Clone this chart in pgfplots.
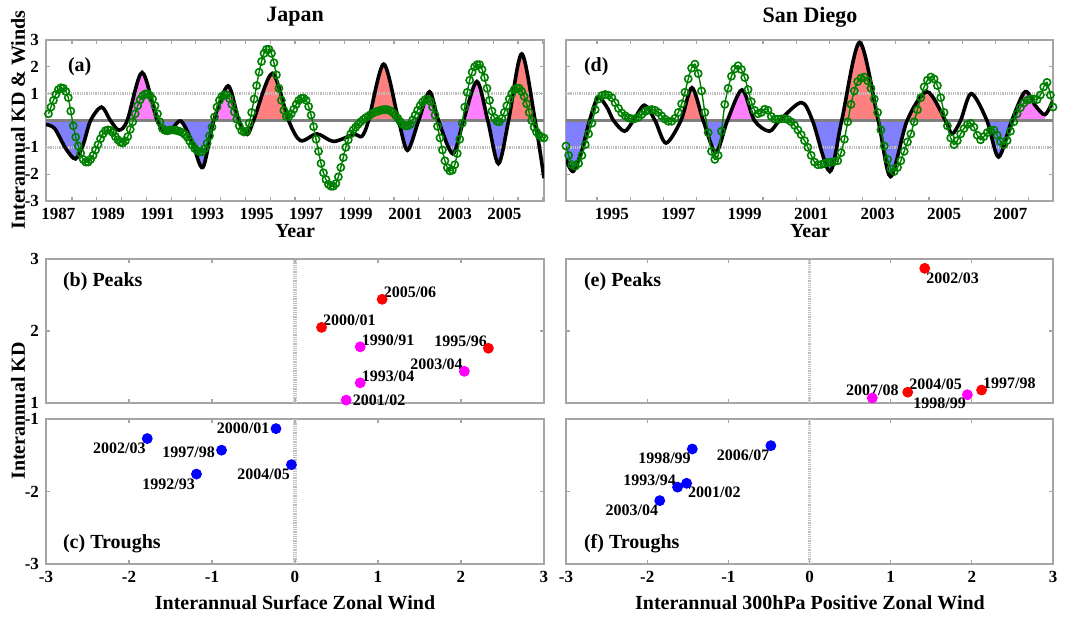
\documentclass[border=0pt]{standalone}
\usepackage{fontspec}
\setmainfont{Liberation Serif}
\usepackage{pgfplots}
\usepackage{pgfplotstable}
\pgfplotsset{compat=1.18}

\definecolor{kdred}{RGB}{255,128,128}
\definecolor{kdpink}{RGB}{255,128,255}
\definecolor{kdblue}{RGB}{128,128,255}
\definecolor{wgreen}{RGB}{0,128,0}
\definecolor{framegray}{RGB}{165,165,165}
\definecolor{ptred}{RGB}{255,0,0}
\definecolor{ptmag}{RGB}{255,0,255}
\definecolor{ptblue}{RGB}{0,0,255}

\pgfplotsset{
  panel/.style={scale only axis, anchor=south west,
    axis line style={draw=framegray, line width=0.7pt},
    tick style={draw=framegray, line width=0.6pt},
    major tick length=2.2pt, tick align=inside,
    tick label style={font=\fontsize{8.5}{10}\selectfont\bfseries}},
  zline/.style={draw=gray, line width=1.5pt},
  dline/.style={draw=gray!50, line width=1.6pt, dash pattern=on 0.45pt off 0.45pt},
  kdline/.style={black, line width=1.8pt, smooth},
  wind/.style={wgreen, line width=0.7pt, smooth, mark=o, mark size=1.8pt,
    mark options={line width=0.8pt, solid}},
  dot/.style={only marks, mark=*, mark size=2.5pt},
  % fill under the KD curve between two zero crossings
  kdfill/.style 2 args={draw=none, smooth, restrict x to domain=#1:#2},
}
\newcommand{\ptlab}{\fontsize{8}{9.6}\selectfont\bfseries}
\newcommand{\axlab}{\fontsize{10}{12}\selectfont\bfseries}

% Japan: KD (black)
\pgfplotstableread{
x y
1986.5 -0.15
1986.85 -0.3
1987.3 -1.05
1987.69 -1.43
1988.0 -0.9
1988.3 0
1988.74 0.5
1989.1 0
1989.44 -0.36
1989.78 0
1990.38 1.79
1990.99 0
1991.42 -0.46
1991.93 -0.02
1992.4 -0.8
1992.83 -1.75
1993.27 0
1993.85 1.29
1994.28 0
1994.62 -0.52
1994.88 0
1995.63 1.75
1996.29 0
1996.77 -0.75
1997.44 -0.5
1998.11 -0.78
1998.92 -0.52
1999.25 -0.59
1999.52 0
2000.13 2.1
2000.73 0
2001.09 -1.11
2001.54 0
2001.98 1.07
2002.34 0
2002.92 -1.24
2003.35 0
2003.89 1.45
2004.33 0
2004.76 -1.61
2005.17 0
2005.7 2.48
2006.24 0
2006.6 -2.15
}\kdA

% Japan: surface zonal wind (green)
\pgfplotstableread{
x y
1986.6 0.25
1986.7 0.5
1986.8 0.75
1986.9 0.97
1987.0 1.15
1987.1 1.22
1987.2 1.2
1987.3 1.08
1987.4 0.85
1987.5 0.35
1987.6 -0.2
1987.7 -0.62
1987.8 -0.95
1987.9 -1.22
1988.0 -1.45
1988.1 -1.55
1988.2 -1.55
1988.3 -1.45
1988.4 -1.3
1988.5 -1.1
1988.6 -0.9
1988.7 -0.68
1988.8 -0.5
1988.9 -0.38
1989.0 -0.35
1989.1 -0.37
1989.2 -0.45
1989.3 -0.6
1989.4 -0.72
1989.5 -0.81
1989.6 -0.84
1989.7 -0.76
1989.8 -0.6
1989.9 -0.33
1990.0 -0.05
1990.1 0.25
1990.2 0.55
1990.3 0.77
1990.4 0.92
1990.5 0.99
1990.6 1.0
1990.7 0.93
1990.8 0.8
1990.9 0.55
1991.0 0.25
1991.1 -0.05
1991.2 -0.3
1991.3 -0.37
1991.4 -0.38
1991.5 -0.36
1991.6 -0.35
1991.7 -0.36
1991.8 -0.38
1991.9 -0.41
1992.0 -0.45
1992.1 -0.52
1992.2 -0.62
1992.3 -0.77
1992.4 -0.92
1992.5 -1.04
1992.6 -1.12
1992.7 -1.17
1992.8 -1.17
1992.9 -1.05
1993.0 -0.85
1993.1 -0.57
1993.2 -0.25
1993.3 0.13
1993.4 0.5
1993.5 0.75
1993.6 0.9
1993.7 0.96
1993.8 0.95
1993.9 0.82
1994.0 0.6
1994.1 0.32
1994.2 0.05
1994.3 -0.2
1994.4 -0.38
1994.5 -0.43
1994.6 -0.4
1994.7 -0.1
1994.8 0.3
1994.9 0.8
1995.0 1.3
1995.1 1.8
1995.2 2.2
1995.3 2.5
1995.4 2.65
1995.5 2.65
1995.6 2.5
1995.7 2.15
1995.8 1.7
1995.9 1.2
1996.0 0.75
1996.1 0.38
1996.2 0.15
1996.3 0.15
1996.4 0.25
1996.5 0.42
1996.6 0.6
1996.7 0.75
1996.8 0.82
1996.9 0.83
1997.0 0.75
1997.1 0.52
1997.2 0.2
1997.3 -0.23
1997.4 -0.7
1997.5 -1.15
1997.6 -1.6
1997.7 -1.95
1997.8 -2.2
1997.9 -2.38
1998.0 -2.45
1998.1 -2.45
1998.2 -2.35
1998.3 -2.1
1998.4 -1.75
1998.5 -1.38
1998.6 -1.0
1998.7 -0.72
1998.8 -0.5
1998.9 -0.35
1999.0 -0.25
1999.1 -0.14
1999.2 -0.05
1999.3 0.03
1999.4 0.1
1999.5 0.16
1999.6 0.22
1999.7 0.28
1999.8 0.32
1999.9 0.35
2000.0 0.38
2000.1 0.4
2000.2 0.41
2000.3 0.4
2000.4 0.36
2000.5 0.29
2000.6 0.2
2000.7 0.08
2000.8 -0.05
2000.9 -0.15
2001.0 -0.2
2001.1 -0.2
2001.2 -0.15
2001.3 0.02
2001.4 0.2
2001.5 0.38
2001.6 0.55
2001.7 0.69
2001.8 0.78
2001.9 0.79
2002.0 0.72
2002.1 0.5
2002.2 0.2
2002.3 -0.22
2002.4 -0.65
2002.5 -1.1
2002.6 -1.5
2002.7 -1.76
2002.8 -1.88
2002.9 -1.85
2003.0 -1.65
2003.1 -1.23
2003.2 -0.7
2003.3 -0.1
2003.4 0.5
2003.5 1.05
2003.6 1.5
2003.7 1.8
2003.8 2.0
2003.9 2.08
2004.0 2.08
2004.1 1.9
2004.2 1.6
2004.3 1.2
2004.4 0.75
2004.5 0.35
2004.6 0.1
2004.7 -0.03
2004.8 -0.05
2004.9 0.08
2005.0 0.3
2005.1 0.55
2005.2 0.8
2005.3 1.0
2005.4 1.15
2005.5 1.2
2005.6 1.2
2005.7 1.08
2005.8 0.9
2005.9 0.62
2006.0 0.3
2006.1 0.0
2006.2 -0.25
2006.3 -0.43
2006.4 -0.55
2006.5 -0.62
2006.6 -0.65
}\windA

% San Diego: KD (black)
\pgfplotstableread{
x y
1993.62 -1.45
1993.83 -1.9
1994.08 -1.2
1994.33 0
1994.58 0.85
1994.85 0.5
1995.05 0
1995.38 -0.4
1995.65 0
1995.98 0.57
1996.3 0
1996.63 -0.84
1997.08 0
1997.41 1.22
1997.75 0
1998.13 -1.19
1998.48 0
1998.92 1.14
1999.29 0
1999.74 -0.4
2000.05 0
2000.7 0.67
2001.04 0
2001.56 -1.9
2001.92 0
2002.46 2.91
2003.02 0
2003.39 -2.09
2003.89 0
2004.49 1.07
2005.04 0
2005.24 -0.5
2005.5 0
2005.82 1.0
2006.29 0
2006.64 -1.36
2007.04 0
2007.44 1.07
2007.75 0.55
2008.04 0.22
2008.28 0.75
}\kdD

% San Diego: 300hPa positive zonal wind (green)
\pgfplotstableread{
x y
1993.62 -0.95
1993.7 -1.3
1993.8 -1.65
1993.9 -1.7
1994.0 -1.6
1994.1 -1.3
1994.2 -0.9
1994.3 -0.5
1994.4 -0.1
1994.5 0.4
1994.6 0.8
1994.7 0.93
1994.8 0.97
1994.9 0.94
1995.0 0.85
1995.1 0.66
1995.2 0.45
1995.3 0.28
1995.4 0.18
1995.5 0.1
1995.6 0.06
1995.7 0.07
1995.8 0.12
1995.9 0.22
1996.0 0.33
1996.1 0.39
1996.2 0.41
1996.3 0.38
1996.4 0.3
1996.5 0.17
1996.6 0.05
1996.7 -0.03
1996.8 -0.03
1996.9 0.08
1997.0 0.3
1997.1 0.62
1997.2 1.05
1997.3 1.55
1997.4 1.95
1997.5 2.1
1997.6 1.75
1997.7 1.1
1997.8 0.3
1997.9 -0.45
1998.0 -1.15
1998.1 -1.45
1998.2 -1.3
1998.3 -0.4
1998.4 0.6
1998.5 1.2
1998.6 1.65
1998.7 1.92
1998.8 2.04
1998.9 1.9
1999.0 1.6
1999.1 1.15
1999.2 0.7
1999.3 0.38
1999.4 0.25
1999.5 0.3
1999.6 0.42
1999.7 0.38
1999.8 0.15
1999.9 0.05
2000.0 0.05
2000.1 0.06
2000.2 0.07
2000.3 0.03
2000.4 -0.05
2000.5 -0.18
2000.6 -0.35
2000.7 -0.53
2000.8 -0.75
2000.9 -1.0
2001.0 -1.3
2001.1 -1.55
2001.2 -1.65
2001.3 -1.64
2001.4 -1.6
2001.5 -1.57
2001.6 -1.55
2001.7 -1.53
2001.8 -1.5
2001.9 -1.2
2002.0 -0.7
2002.1 -0.05
2002.2 0.6
2002.3 1.1
2002.4 1.45
2002.5 1.58
2002.6 1.62
2002.7 1.48
2002.8 1.2
2002.9 0.8
2003.0 0.3
2003.1 -0.35
2003.2 -0.95
2003.3 -1.45
2003.4 -1.8
2003.5 -1.9
2003.6 -1.75
2003.7 -1.5
2003.8 -1.15
2003.9 -0.8
2004.0 -0.5
2004.1 -0.05
2004.2 0.4
2004.3 0.85
2004.4 1.25
2004.5 1.5
2004.6 1.62
2004.7 1.55
2004.8 1.3
2004.9 0.85
2005.0 0.3
2005.1 -0.2
2005.2 -0.65
2005.3 -0.9
2005.4 -0.75
2005.5 -0.5
2005.6 -0.3
2005.7 -0.15
2005.8 -0.1
2005.9 -0.25
2006.0 -0.55
2006.1 -0.72
2006.2 -0.6
2006.3 -0.45
2006.4 -0.37
2006.5 -0.36
2006.6 -0.55
2006.7 -0.78
2006.8 -0.9
2006.9 -0.75
2007.0 -0.4
2007.1 -0.05
2007.2 0.25
2007.3 0.48
2007.4 0.65
2007.5 0.75
2007.6 0.8
2007.7 0.8
2007.8 0.78
2007.9 0.95
2008.0 1.25
2008.1 1.42
2008.2 0.95
2008.28 0.5
}\windD

\begin{document}
\begin{tikzpicture}
\path (0,0) rectangle (532.5pt,309.5pt);

% ---------- (a) Japan time series
\begin{axis}[panel, at={(23pt,209pt)}, width=249pt, height=80.5pt,
  xmin=1986.5, xmax=2006.6, ymin=-3, ymax=3,
  xtick={1987.55,1988.55,...,2006.55}, xticklabels={},
  extra x ticks={1987,1989,...,2005},
  extra x tick labels={1987,1989,1991,1993,1995,1997,1999,2001,2003,2005},
  extra x tick style={major tick length=0pt},
  ytick={-3,...,3}, yticklabels={-3,-2,-1,,1,2,3}]
\addplot[kdfill={1986.49}{1988.31}, fill=kdblue] table {\kdA} \closedcycle;
\addplot[kdfill={1990.98}{1993.28}, fill=kdblue] table {\kdA} \closedcycle;
\addplot[kdfill={2000.72}{2001.55}, fill=kdblue] table {\kdA} \closedcycle;
\addplot[kdfill={2002.33}{2003.36}, fill=kdblue] table {\kdA} \closedcycle;
\addplot[kdfill={2004.32}{2005.18}, fill=kdblue] table {\kdA} \closedcycle;
\addplot[kdfill={1989.77}{1991.00}, fill=kdpink] table {\kdA} \closedcycle;
\addplot[kdfill={1993.26}{1994.29}, fill=kdpink] table {\kdA} \closedcycle;
\addplot[kdfill={2001.53}{2002.35}, fill=kdpink] table {\kdA} \closedcycle;
\addplot[kdfill={2003.34}{2004.34}, fill=kdpink] table {\kdA} \closedcycle;
\addplot[kdfill={1994.87}{1996.30}, fill=kdred] table {\kdA} \closedcycle;
\addplot[kdfill={1999.51}{2000.74}, fill=kdred] table {\kdA} \closedcycle;
\addplot[kdfill={2005.16}{2006.25}, fill=kdred] table {\kdA} \closedcycle;
\addplot[dline] coordinates {(1986.5,1) (2006.6,1)};
\addplot[dline] coordinates {(1986.5,-1) (2006.6,-1)};
\addplot[zline] coordinates {(1986.5,0) (2006.6,0)};
\addplot[kdline] table {\kdA};
\addplot[wind] table {\windA};
\end{axis}

% ---------- (d) San Diego time series
\begin{axis}[panel, at={(283pt,209pt)}, width=243.5pt, height=80.5pt,
  xmin=1993.62, xmax=2008.28, ymin=-3, ymax=3,
  xtick={1994.55,1995.55,...,2007.55}, xticklabels={},
  extra x ticks={1995,1997,...,2007},
  extra x tick labels={1995,1997,1999,2001,2003,2005,2007},
  extra x tick style={major tick length=0pt},
  ytick={-3,...,3}, yticklabels={}]
\addplot[kdfill={1993.61}{1994.34}, fill=kdblue] table {\kdD} \closedcycle;
\addplot[kdfill={1997.74}{1998.49}, fill=kdblue] table {\kdD} \closedcycle;
\addplot[kdfill={2001.03}{2001.93}, fill=kdblue] table {\kdD} \closedcycle;
\addplot[kdfill={2003.01}{2003.90}, fill=kdblue] table {\kdD} \closedcycle;
\addplot[kdfill={2006.28}{2007.05}, fill=kdblue] table {\kdD} \closedcycle;
\addplot[kdfill={1997.07}{1997.76}, fill=kdred] table {\kdD} \closedcycle;
\addplot[kdfill={2001.91}{2003.03}, fill=kdred] table {\kdD} \closedcycle;
\addplot[kdfill={2003.88}{2005.05}, fill=kdred] table {\kdD} \closedcycle;
\addplot[kdfill={1998.47}{1999.30}, fill=kdpink] table {\kdD} \closedcycle;
\addplot[kdfill={2007.03}{2008.05}, fill=kdpink] table {\kdD} \closedcycle;
\addplot[dline] coordinates {(1993.62,1) (2008.28,1)};
\addplot[dline] coordinates {(1993.62,-1) (2008.28,-1)};
\addplot[zline] coordinates {(1993.62,0) (2008.28,0)};
\addplot[kdline] table {\kdD};
\addplot[wind] table {\windD};
\end{axis}

% ---------- (b) Japan peaks
\begin{axis}[panel, at={(23pt,108pt)}, width=249pt, height=72pt, clip=false,
  xmin=-3, xmax=3, ymin=1, ymax=3,
  xtick={-3,...,3}, xticklabels={}, ytick={1,2,3}, yticklabels={1,2,3}]
\addplot[dline] coordinates {(0,1) (0,3)};
\addplot[dot, ptred] coordinates {(1.05,2.44) (0.32,2.05) (2.33,1.76)};
\addplot[dot, ptmag] coordinates {(0.786,1.78) (2.04,1.44) (0.786,1.28) (0.617,1.04)};
\begin{scope}[font=\ptlab, inner sep=0.6pt]
\node[anchor=south west] at (axis cs:1.05,2.44) {2005/06};
\node[anchor=south west] at (axis cs:0.32,2.05) {2000/01};
\node[anchor=south west] at (axis cs:0.786,1.78) {1990/91};
\node[anchor=south east] at (axis cs:2.33,1.76) {1995/96};
\node[anchor=south east] at (axis cs:2.04,1.44) {2003/04};
\node[anchor=south west] at (axis cs:0.786,1.28) {1993/04};
\node[anchor=west, xshift=2.5pt] at (axis cs:0.617,1.04) {2001/02};
\end{scope}
\end{axis}

% ---------- (c) Japan troughs
\begin{axis}[panel, at={(23pt,27.5pt)}, width=249pt, height=72.5pt, clip=false,
  xmin=-3, xmax=3, ymin=-3, ymax=-1,
  xtick={-3,...,3}, xticklabels={-3,-2,-1,0,1,2,3},
  ytick={-3,-2,-1}, yticklabels={-3,-2,-1}]
\addplot[dline] coordinates {(0,-3) (0,-1)};
\addplot[dot, ptblue] coordinates {(-0.229,-1.133) (-1.78,-1.27) (-0.885,-1.43) (-1.187,-1.76) (-0.043,-1.63)};
\begin{scope}[font=\ptlab, inner sep=0.6pt]
\node[anchor=east, xshift=-2.5pt] at (axis cs:-0.229,-1.133) {2000/01};
\node[anchor=north east, yshift=-1.5pt] at (axis cs:-1.78,-1.27) {2002/03};
\node[anchor=east, xshift=-2.5pt, yshift=-1pt] at (axis cs:-0.885,-1.43) {1997/98};
\node[anchor=north east, yshift=-1.5pt] at (axis cs:-1.187,-1.76) {1992/93};
\node[anchor=north east, yshift=-1.2pt] at (axis cs:-0.043,-1.63) {2004/05};
\end{scope}
\end{axis}

% ---------- (e) San Diego peaks
\begin{axis}[panel, at={(283pt,108pt)}, width=243.5pt, height=72pt, clip=false,
  xmin=-3, xmax=3, ymin=1, ymax=3,
  xtick={-3,...,3}, xticklabels={}, ytick={1,2,3}, yticklabels={}]
\addplot[dline] coordinates {(0,1) (0,3)};
\addplot[dot, ptred] coordinates {(1.42,2.87) (1.21,1.15) (2.12,1.18)};
\addplot[dot, ptmag] coordinates {(0.774,1.07) (1.945,1.115)};
\begin{scope}[font=\ptlab, inner sep=0.6pt]
\node[anchor=north west, yshift=-1.5pt] at (axis cs:1.42,2.87) {2002/03};
\node[anchor=south, yshift=0.5pt] at (axis cs:0.774,1.07) {2007/08};
\node[anchor=south west, yshift=0.5pt] at (axis cs:1.21,1.15) {2004/05};
\node[anchor=north east, yshift=-1pt] at (axis cs:1.945,1.115) {1998/99};
\node[anchor=south west] at (axis cs:2.12,1.18) {1997/98};
\end{scope}
\end{axis}

% ---------- (f) San Diego troughs
\begin{axis}[panel, at={(283pt,27.5pt)}, width=243.5pt, height=72.5pt, clip=false,
  xmin=-3, xmax=3, ymin=-3, ymax=-1,
  xtick={-3,...,3}, xticklabels={-3,-2,-1,0,1,2,3},
  ytick={-3,-2,-1}, yticklabels={}]
\addplot[dline] coordinates {(0,-3) (0,-1)};
\addplot[dot, ptblue] coordinates {(-1.444,-1.414) (-0.476,-1.368) (-1.626,-1.94) (-1.514,-1.887) (-1.845,-2.126)};
\begin{scope}[font=\ptlab, inner sep=0.6pt]
\node[anchor=north east, yshift=-1pt] at (axis cs:-1.444,-1.414) {1998/99};
\node[anchor=north east, yshift=-1.2pt] at (axis cs:-0.476,-1.368) {2006/07};
\node[anchor=south east] at (axis cs:-1.626,-1.94) {1993/94};
\node[anchor=north west, yshift=-1.2pt] at (axis cs:-1.514,-1.887) {2001/02};
\node[anchor=north east, yshift=-1.2pt] at (axis cs:-1.845,-2.126) {2003/04};
\end{scope}
\end{axis}

% ---------- titles and labels
\node[font=\fontsize{11}{13}\selectfont\bfseries] at (147.5pt,301pt) {Japan};
\node[font=\fontsize{11}{13}\selectfont\bfseries] at (405pt,301pt) {San Diego};
\node[font=\axlab] at (147.5pt,194pt) {Year};
\node[font=\axlab] at (405pt,194pt) {Year};
\node[font=\axlab, rotate=90] at (9pt,249.5pt) {Interannual KD \& Winds};
\node[font=\axlab, rotate=90] at (9pt,104pt) {Interannual KD};
\node[font=\axlab] at (147.5pt,8pt) {Interannual Surface Zonal Wind};
\node[font=\axlab] at (405pt,8pt) {Interannual 300hPa Positive Zonal Wind};
\node[font=\axlab, anchor=west] at (30.5pt,276pt) {(a)};
\node[font=\axlab, anchor=west] at (288.5pt,276pt) {(d)};
\node[font=\axlab, anchor=west] at (28pt,168.5pt) {(b) Peaks};
\node[font=\axlab, anchor=west] at (288.5pt,168.5pt) {(e) Peaks};
\node[font=\axlab, anchor=west] at (28pt,37.5pt) {(c) Troughs};
\node[font=\axlab, anchor=west] at (288.5pt,37.5pt) {(f) Troughs};
\end{tikzpicture}
\end{document}
